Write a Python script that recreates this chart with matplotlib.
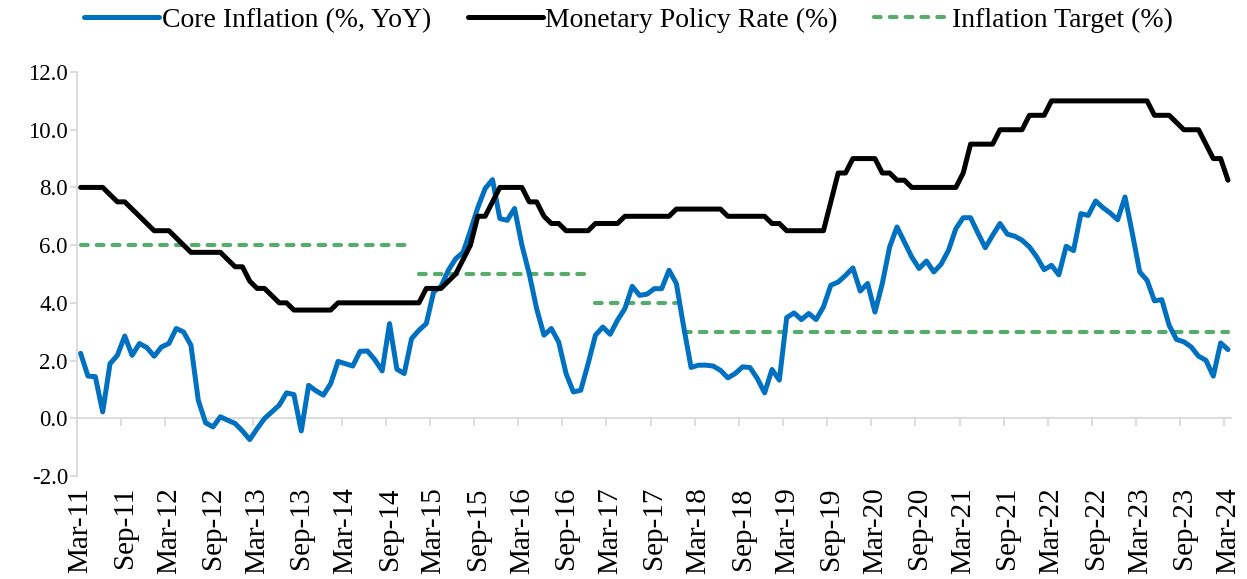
import numpy as np
import pandas as pd
import matplotlib
matplotlib.use("Agg")
import matplotlib.pyplot as plt

plt.rcParams["font.family"] = ["Liberation Serif", "DejaVu Serif"]

BLUE, BLACK, GREEN, AXIS = "#0070c0", "#000000", "#57ab6b", "#d9d9d9"

# monthly, Mar-11 .. Mar-24
months = pd.date_range("2011-03-01", "2024-03-01", freq="MS")

core_inflation = [
    2.25, 1.46, 1.44, 0.22, 1.89, 2.18, 2.85, 2.18, 2.59, 2.45, 2.15, 2.47,   # Mar-11..Feb-12
    2.59, 3.11, 2.99, 2.53, 0.62, -0.16, -0.30, 0.05, -0.07, -0.18, -0.44, -0.74,
    -0.36, -0.01, 0.22, 0.45, 0.88, 0.82, -0.44, 1.14, 0.95, 0.80, 1.20, 1.97,
    1.89, 1.81, 2.32, 2.33, 2.03, 1.64, 3.28, 1.70, 1.55, 2.76, 3.05, 3.28,
    4.38, 4.57, 5.13, 5.53, 5.75, 6.50, 7.30, 7.96, 8.27, 6.92, 6.86, 7.27,
    6.00, 5.00, 3.80, 2.88, 3.11, 2.64, 1.55, 0.91, 0.97, 1.89, 2.88, 3.16,
    2.91, 3.40, 3.80, 4.57, 4.26, 4.30, 4.49, 4.49, 5.13, 4.67, 3.16, 1.76,
    1.84, 1.84, 1.81, 1.66, 1.40, 1.55, 1.78, 1.76, 1.38, 0.88, 1.69, 1.32,
    3.49, 3.65, 3.42, 3.63, 3.42, 3.86, 4.61, 4.72, 4.95, 5.21, 4.41, 4.67,
    3.68, 4.67, 5.94, 6.63, 6.11, 5.59, 5.19, 5.45, 5.07, 5.34, 5.82, 6.57,
    6.95, 6.95, 6.42, 5.91, 6.34, 6.75, 6.38, 6.31, 6.17, 5.94, 5.59, 5.15,
    5.30, 4.97, 5.96, 5.81, 7.09, 7.03, 7.53, 7.30, 7.11, 6.88, 7.67, 6.40,
    5.07, 4.78, 4.07, 4.11, 3.22, 2.73, 2.65, 2.47, 2.15, 2.01, 1.46, 2.61,
    2.38,                                                                    # Mar-24
]

policy_rate = [
    8.00, 8.00, 8.00, 8.00, 7.75, 7.50, 7.50, 7.25, 7.00, 6.75, 6.50, 6.50,
    6.50, 6.25, 6.00, 5.75, 5.75, 5.75, 5.75, 5.75, 5.50, 5.25, 5.25, 4.75,
    4.50, 4.50, 4.25, 4.00, 4.00, 3.75, 3.75, 3.75, 3.75, 3.75, 3.75, 4.00,
    4.00, 4.00, 4.00, 4.00, 4.00, 4.00, 4.00, 4.00, 4.00, 4.00, 4.00, 4.50,
    4.50, 4.50, 4.75, 5.00, 5.50, 6.00, 7.00, 7.00, 7.50, 8.00, 8.00, 8.00,
    8.00, 7.50, 7.50, 7.00, 6.75, 6.75, 6.50, 6.50, 6.50, 6.50, 6.75, 6.75,
    6.75, 6.75, 7.00, 7.00, 7.00, 7.00, 7.00, 7.00, 7.00, 7.25, 7.25, 7.25,
    7.25, 7.25, 7.25, 7.25, 7.00, 7.00, 7.00, 7.00, 7.00, 7.00, 6.75, 6.75,
    6.50, 6.50, 6.50, 6.50, 6.50, 6.50, 7.50, 8.50, 8.50, 9.00, 9.00, 9.00,
    9.00, 8.50, 8.50, 8.25, 8.25, 8.00, 8.00, 8.00, 8.00, 8.00, 8.00, 8.00,
    8.50, 9.50, 9.50, 9.50, 9.50, 10.00, 10.00, 10.00, 10.00, 10.50, 10.50, 10.50,
    11.00, 11.00, 11.00, 11.00, 11.00, 11.00, 11.00, 11.00, 11.00, 11.00, 11.00, 11.00,
    11.00, 11.00, 10.50, 10.50, 10.50, 10.25, 10.00, 10.00, 10.00, 9.50, 9.00, 9.00,
    8.25,
]

target_values = [6.0, 5.0, 4.0, 3.0]
target_from = ["2011-03", "2015-01", "2017-01", "2018-01"]
target_to = ["2014-12", "2016-12", "2017-12", "2024-03"]

x = np.arange(len(months))
month_pos = {m.strftime("%Y-%m"): i for i, m in enumerate(months)}

fig = plt.figure(figsize=(12.47, 5.79), dpi=100)
ax = fig.add_axes([0.0617, 0.178, 0.926, 0.6976])

ax.plot(x, core_inflation, color=BLUE, lw=3.6, solid_joinstyle="round",
        solid_capstyle="round", label="Core Inflation (%, YoY)", zorder=3)
ax.plot(x, policy_rate, color=BLACK, lw=3.6, solid_joinstyle="round",
        solid_capstyle="round", label="Monetary Policy Rate (%)", zorder=4)
for j, (v, a, b) in enumerate(zip(target_values, target_from, target_to)):
    ax.plot([month_pos[a], month_pos[b]], [v, v], color=GREEN, lw=3.0,
            dashes=(1.6, 2.2), dash_capstyle="round", zorder=2,
            label="Inflation Target (%)" if j == 0 else None)

# axes styling, Excel-like
ax.set_xlim(-0.5, len(months) - 0.5)
ax.set_ylim(-2, 12)
ax.set_yticks(np.arange(-2, 12.1, 2))
ax.yaxis.set_major_formatter(matplotlib.ticker.FormatStrFormatter("%.1f"))
for s in ("top", "right", "bottom"):
    ax.spines[s].set_visible(False)
ax.spines["left"].set_color(AXIS)
ax.spines["left"].set_linewidth(1.3)
ax.tick_params(axis="y", colors=AXIS, length=5, width=1.3, labelsize=16.5,
               labelcolor="black", pad=1.5)
ax.axhline(0, color=AXIS, lw=1.3, zorder=1)
bounds = np.arange(0, len(months), 6) - 0.5
ax.vlines(bounds, -0.28, 0, color=AXIS, lw=1.3, zorder=1)
ax.set_xticks(x[::6])
ax.set_xticklabels(months[::6].strftime("%b-%y"), rotation=90, fontsize=21)
ax.tick_params(axis="x", length=0, pad=8)

fig.legend(loc="upper center", bbox_to_anchor=(0.504, 1.03), ncol=3,
           frameon=False, fontsize=20, handlelength=2.7, columnspacing=1.3,
           handletextpad=0.1)

fig.savefig("out.png", dpi=100)
